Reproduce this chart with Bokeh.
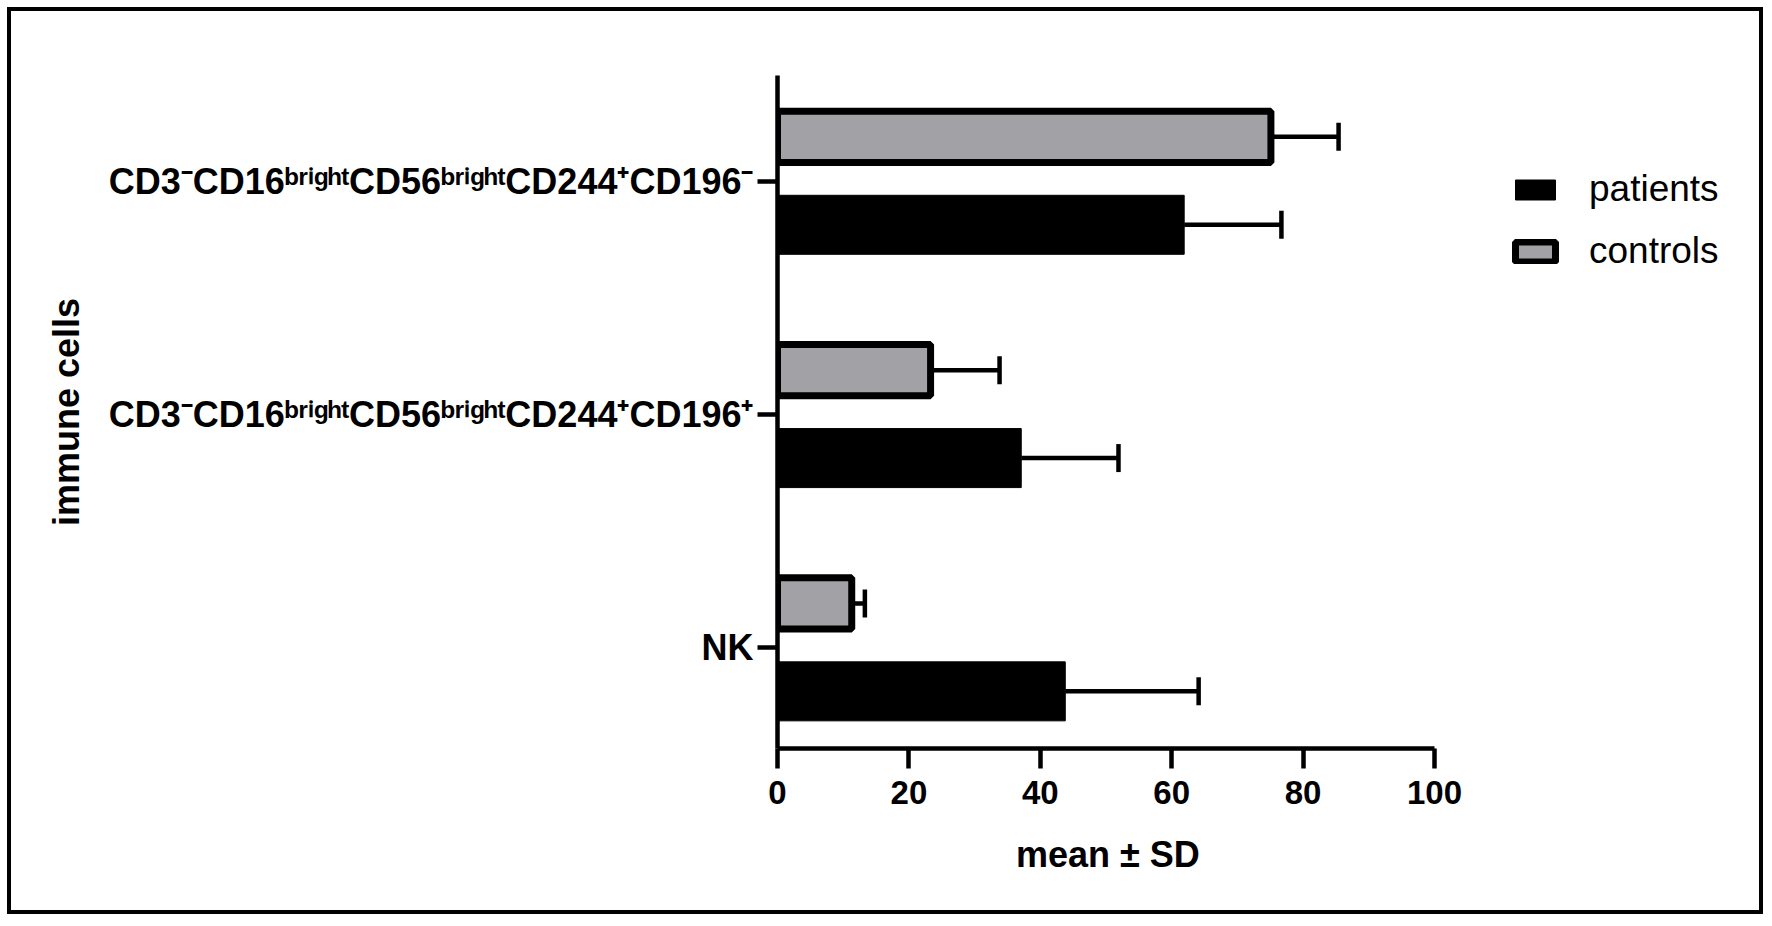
from bokeh.plotting import figure
from bokeh.models import (ColumnDataSource, Range1d, FixedTicker, Whisker,
                          TeeHead, Legend, LegendItem, Title)
from bokeh.transform import dodge
from bokeh.embed import file_html
from bokeh.resources import INLINE

# ---------------- data ----------------
categories = [
    "CD3\u207bCD16\u1d47\u02b3\u2071\u1d4d\u02b0\u1d57CD56\u1d47\u02b3\u2071\u1d4d\u02b0\u1d57CD244\u207aCD196\u207b",
    "CD3\u207bCD16\u1d47\u02b3\u2071\u1d4d\u02b0\u1d57CD56\u1d47\u02b3\u2071\u1d4d\u02b0\u1d57CD244\u207aCD196\u207a",
    "NK",
]
patients_mean = [61.9, 37.1, 43.8]
patients_sd = [14.8, 14.8, 20.3]
controls_mean = [75.1, 23.3, 11.3]
controls_sd = [10.3, 10.5, 2.0]
series_names = ["patients", "controls"]
x_ticks = [0, 20, 40, 60, 80, 100]
x_bounds = (0, 100)
x_title = "mean \u00b1 SD"
y_title = "immune cells"

FONT = "Liberation Sans"
GREY = "#a2a1a6"

# ---------------- layout (pixels) ----------------
W, H = 1756, 907
BL, BR, BT, BB = 766, 10, 64, 170
AXIS_PX = 657            # pixel length of the 0..100 axis
X_TITLE_PX = 180         # approx. rendered width of the x title
frame_w = W - BL - BR
x_end = x_bounds[1] * frame_w / AXIS_PX

ypos = list(range(len(categories)))[::-1]
src = ColumnDataSource(dict(
    y=ypos,
    cat=categories,
    p=patients_mean,
    p_hi=[m + s for m, s in zip(patients_mean, patients_sd)],
    c=controls_mean,
    c_hi=[m + s for m, s in zip(controls_mean, controls_sd)],
))

p = figure(width=W, height=H, output_backend="svg", toolbar_location=None,
           x_range=Range1d(0, x_end), y_range=Range1d(-0.432, 2.453),
           min_border_left=BL, min_border_right=BR,
           min_border_top=BT, min_border_bottom=BB)
p.styles = {"border": "4px solid black", "margin": "7px"}
p.outline_line_color = None
p.xgrid.grid_line_color = None
p.ygrid.grid_line_color = None
p.background_fill_color = "white"
p.border_fill_color = "white"

P_OFF, C_OFF = -0.187, 0.19

rp = p.hbar(y=dodge("y", P_OFF), left=0, right="p", height=0.253, source=src,
            fill_color="black", line_color="black", line_width=1)
rc = p.hbar(y=dodge("y", C_OFF), left=0, right="c", height=0.219, source=src,
            fill_color=GREY, line_color="black", line_width=7)

for off, lo, hi in [(P_OFF, "p", "p_hi"), (C_OFF, "c", "c_hi")]:
    w = Whisker(source=src, base=dodge("y", off), lower=lo, upper=hi,
                dimension="width", line_color="black", line_width=4.5,
                lower_head=None,
                upper_head=TeeHead(size=28, line_width=4.5, line_color="black"))
    p.add_layout(w)

# axes
for ax in (p.xaxis[0], p.yaxis[0]):
    ax.axis_line_width = 4.5
    ax.major_tick_line_width = 4.5
    ax.major_tick_out = 20
    ax.major_tick_in = 0
    ax.minor_tick_line_color = None
    ax.major_label_text_font = FONT
    ax.major_label_text_font_style = "bold"
    ax.major_label_text_color = "black"
    ax.axis_label_text_font = FONT
    ax.axis_label_text_font_style = "bold"
    ax.axis_label_text_color = "black"

p.xaxis.ticker = FixedTicker(ticks=x_ticks)
p.xaxis.bounds = x_bounds
p.xaxis.major_label_text_font_size = "33px"
p.xaxis.major_label_standoff = 12

# x-axis title, centred under the bounded 0..100 axis
p.add_layout(Title(text=x_title, align="left",
                   offset=(AXIS_PX - X_TITLE_PX) / 2,
                   text_font=FONT, text_font_size="36px",
                   text_font_style="bold", text_color="black",
                   standoff=50), "below")

p.yaxis.ticker = FixedTicker(ticks=ypos)
p.yaxis.major_label_overrides = {y: c for y, c in zip(ypos, categories)}
p.yaxis.major_label_text_font_size = "36px"
p.yaxis.major_label_standoff = 4
p.yaxis.axis_label = y_title
p.yaxis.axis_label_text_font_size = "36px"
p.yaxis.axis_label_standoff = 19

legend = Legend(items=[LegendItem(label=series_names[0], renderers=[rp]),
                       LegendItem(label=series_names[1], renderers=[rc])],
                location=(733, 476), glyph_width=50, glyph_height=25,
                label_standoff=29, spacing=20, padding=0, margin=0,
                border_line_color=None, background_fill_alpha=0,
                label_text_font=FONT, label_text_font_size="37px",
                label_text_color="black", label_height=25)
p.add_layout(legend)

open("out.html", "w").write(file_html(p, INLINE))
